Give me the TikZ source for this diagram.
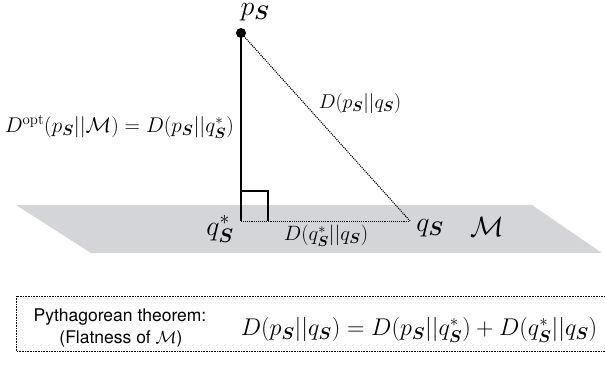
\RequirePackage{fix-cm}
\documentclass[tikz,border=0pt]{standalone}
\usepackage{amsmath,bm}
\usepackage{fontspec}
\setsansfont{TeX Gyre Heros}
\newcommand{\bSS}{\boldsymbol{S}}
\definecolor{planegray}{RGB}{212,213,216}
\begin{document}
\begin{tikzpicture}[x=1pt,y=-1pt,
  lbl/.style={inner sep=0pt},
  big/.style={lbl,font=\fontsize{28}{32}\selectfont},
  mid/.style={lbl,font=\fontsize{20}{24}\selectfont},
  txt/.style={lbl,font=\sffamily\fontsize{17.5}{21}\selectfont}]
\useasboundingbox (0,0) rectangle (605,374);
\fill[planegray] (16,205) -- (532,205) -- (602,253) -- (91,253) -- cycle;
\node[circle,fill,inner sep=0pt,minimum size=10pt] (p) at (241,33) {};
\coordinate (qs) at (241,221);
\coordinate (q) at (410,221);
\draw[line width=2.6pt] (p.center) -- (qs);
\draw[densely dotted,line width=1.1pt] (p.center) -- (q);
\draw[densely dotted,line width=0.9pt] (qs) -- (q);
\draw[line width=1.1pt] (241,191) -- (268,191) -- (268,221);
\node[big,anchor=north] (lp) at (255,3) {$p_{\bSS}$};
\node[mid] (ld) at (360,104) {$D(p_{\bSS}||q_{\bSS})$};
\node[mid,anchor=east,font=\fontsize{21.3}{25}\selectfont] (lopt) at (234,127) {$D^{\mathrm{opt}}(p_{\bSS}||\mathcal{M})=D(p_{\bSS}||q^*_{\bSS})$};
\node[mid,font=\fontsize{20.7}{25}\selectfont] (ldq) at (326,236) {$D(q^*_{\bSS}||q_{\bSS})$};
\node[big] (lqs) at (220,229) {$q^*_{\bSS}$};
\node[big] (lq) at (430,228) {$q_{\bSS}$};
\node[big] (lm) at (487,227) {$\mathcal{M}$};
\draw[densely dotted,line width=0.6pt] (16,296) rectangle (608,351);
\node[txt] (t1) at (120,317) {Pythagorean theorem:};
\node[txt] (t2) at (121,339) {(Flatness of $\mathcal{M}$)};
\node[lbl,font=\fontsize{24.2}{28}\selectfont] (eq) at (419,330) {$D(p_{\bSS}||q_{\bSS})=D(p_{\bSS}||q^*_{\bSS})+D(q^*_{\bSS}||q_{\bSS})$};
\end{tikzpicture}
\end{document}
